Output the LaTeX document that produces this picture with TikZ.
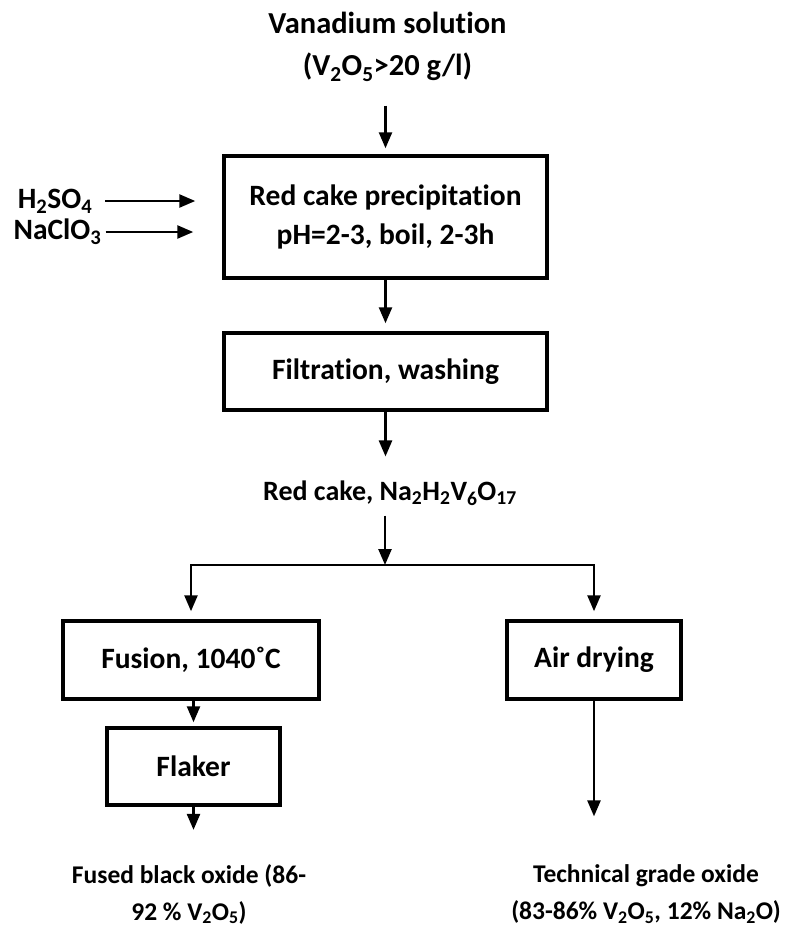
\documentclass[tikz,border=0pt]{standalone}
\usepackage{fontspec}
\setmainfont{Carlito}[Ligatures=NoCommon]
\usetikzlibrary{arrows.meta,positioning,calc}

\begin{document}
\begin{tikzpicture}[x=1pt,y=-1pt,>={Triangle[length=16pt,width=13pt]},line width=2.5pt,
 font=\fontsize{29.5}{39}\selectfont\bfseries,
 blk/.style={draw,line width=3.5pt,minimum width=#1,align=center,inner sep=0pt},
 lbl/.style={align=center,inner sep=0pt},
 sml/.style={lbl,font=\fontsize{25.5}{37}\selectfont\bfseries}]
\useasboundingbox (0,0) rectangle (787,927);
\node[lbl,font=\fontsize{30.5}{42}\selectfont\bfseries] (src) at (387.5,47) {Vanadium solution\\(V\textsubscript{2}O\textsubscript{5}>20 g/l)};
\node[blk=323pt,minimum height=122pt] (prec) at (385.5,217) {Red cake precipitation\\pH=2-3, boil, 2-3h};
\node[lbl] (h2so4) at (55,201) {H\textsubscript{2}SO\textsubscript{4}};
\node[lbl] (naclo3) at (57.5,232) {NaClO\textsubscript{3}};
\node[blk=323pt,minimum height=77pt] (filt) at (385.5,371.5) {Filtration, washing};
\node[lbl,font=\fontsize{28}{34}\selectfont\bfseries] (cake) at (390,493) {Red cake, Na\textsubscript{2}H\textsubscript{2}V\textsubscript{6}O\textsubscript{17}};
\coordinate (split) at (385,565);
\node[blk=256pt,minimum height=78pt] (fus) at (191,660) {Fusion, 1040\char"02DA C};
\node[blk=173pt,minimum height=77pt] (flak) at (193.5,766.5) {Flaker};
\node[blk=174pt,minimum height=78pt] (air) at (594,660) {Air drying};
\node[sml] (fbo) at (189,894) {Fused black oxide (86-\\92 \% V\textsubscript{2}O\textsubscript{5})};
\node[sml] (tgo) at (646,894) {Technical grade oxide\\(83-86\% V\textsubscript{2}O\textsubscript{5}, 12\% Na\textsubscript{2}O)};
% main line
\draw[->,shorten <=23pt,shorten >=6pt] (src.south -| prec) -- (prec);
\draw[->,shorten <=12pt,shorten >=27pt] (h2so4.east) -- (h2so4.east -| prec.west);
\draw[->,shorten <=3pt,shorten >=29pt] (naclo3.east) -- (naclo3.east -| prec.west);
\draw[->,shorten >=8pt] (prec) -- (filt);
\draw[->,shorten >=23pt] (filt) -- (filt |- cake.north);
\draw[->,shorten <=9pt] (cake.south -| split) -- (split);
% branches
\draw[->,shorten >=8pt] (split) -| (fus);
\draw[->,shorten >=8pt] (split) -| (air);
\draw[->,shorten >=4pt] (fus.south -| flak) -- (flak);
\draw[->,shorten >=33pt] (flak) -- (flak |- fbo.north);
\draw[->,shorten >=47pt] (air) -- (air |- tgo.north);
\end{tikzpicture}
\end{document}
